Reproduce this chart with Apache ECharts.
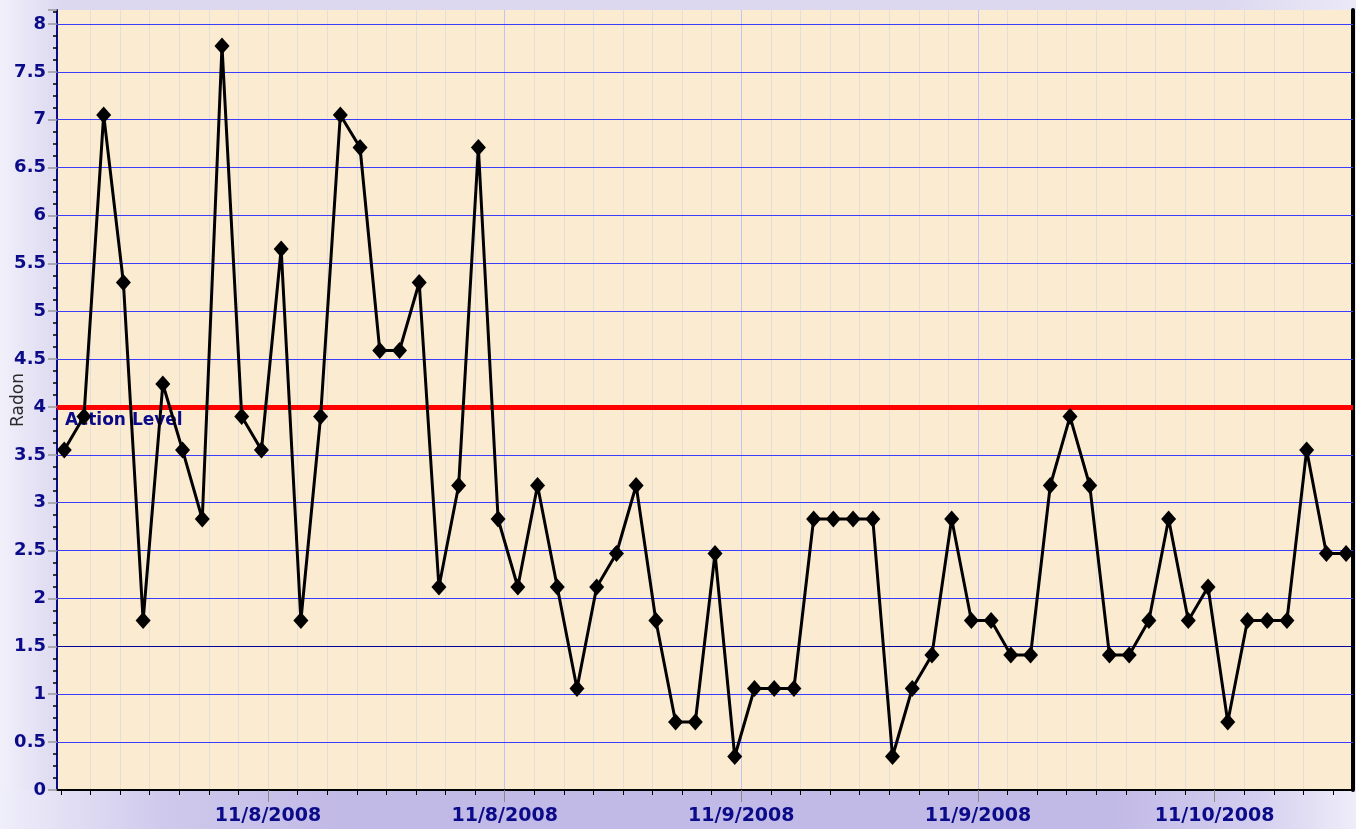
<!DOCTYPE html>
<html>
<head>
<meta charset="utf-8">
<script src="https://cdn.jsdelivr.net/npm/echarts@6/dist/echarts.min.js"></script>
<style>
html,body{margin:0;padding:0;background:#e4e1f4;}
#chart{width:1356px;height:829px;}
</style>
</head>
<body>
<div id="chart"></div>
<script>
// ---- data ----
const times = [
  '2008-11-07 13:40','2008-11-07 14:40','2008-11-07 15:40','2008-11-07 16:40','2008-11-07 17:40','2008-11-07 18:40',
  '2008-11-07 19:40','2008-11-07 20:40','2008-11-07 21:40','2008-11-07 22:40','2008-11-07 23:40',
  '2008-11-08 00:40','2008-11-08 01:40','2008-11-08 02:40','2008-11-08 03:40','2008-11-08 04:40','2008-11-08 05:40',
  '2008-11-08 06:40','2008-11-08 07:40','2008-11-08 08:40','2008-11-08 09:40','2008-11-08 10:40','2008-11-08 11:40',
  '2008-11-08 12:40','2008-11-08 13:40','2008-11-08 14:40','2008-11-08 15:40','2008-11-08 16:40','2008-11-08 17:40',
  '2008-11-08 18:40','2008-11-08 19:40','2008-11-08 20:40','2008-11-08 21:40','2008-11-08 22:40','2008-11-08 23:40',
  '2008-11-09 00:40','2008-11-09 01:40','2008-11-09 02:40','2008-11-09 03:40','2008-11-09 04:40','2008-11-09 05:40',
  '2008-11-09 06:40','2008-11-09 07:40','2008-11-09 08:40','2008-11-09 09:40','2008-11-09 10:40','2008-11-09 11:40',
  '2008-11-09 12:40','2008-11-09 13:40','2008-11-09 14:40','2008-11-09 15:40','2008-11-09 16:40','2008-11-09 17:40',
  '2008-11-09 18:40','2008-11-09 19:40','2008-11-09 20:40','2008-11-09 21:40','2008-11-09 22:40','2008-11-09 23:40',
  '2008-11-10 00:40','2008-11-10 01:40','2008-11-10 02:40','2008-11-10 03:40','2008-11-10 04:40','2008-11-10 05:40',
  '2008-11-10 06:40'
];
const radon = [
  3.55,3.9,7.05,5.3,1.77,4.24,3.55,2.83,7.77,3.9,
  3.55,5.65,1.77,3.9,7.05,6.71,4.59,4.59,5.3,2.12,
  3.18,6.71,2.83,2.12,3.18,2.12,1.06,2.12,2.47,3.18,
  1.77,0.71,0.71,2.47,0.35,1.06,1.06,1.06,2.83,2.83,
  2.83,2.83,0.35,1.06,1.41,2.83,1.77,1.77,1.41,1.41,
  3.18,3.9,3.18,1.41,1.41,1.77,2.83,1.77,2.12,0.71,
  1.77,1.77,1.77,3.55,2.47,2.47
];
const majorTicks = ['2008-11-08 00:00','2008-11-08 12:00','2008-11-09 00:00','2008-11-09 12:00','2008-11-10 00:00'];
const majorLabels = ['11/8/2008','11/8/2008','11/9/2008','11/9/2008','11/10/2008'];
const yGridLevels = [0.5, 1, 2, 2.5, 3, 3.5, 4.5, 5, 5.5, 6, 6.5, 7, 7.5, 8];
const actionLevel = 4;
const actionLabel = 'Action Level';
const darkLineLevel = 1.5;
const yName = 'Radon';
const xMin = '2008-11-07 13:18';
const xMax = '2008-11-10 07:01';
const minorTickStart = '2008-11-07 13:30';
const minorTickHours = 1.5;

// ---- build ----
const P = s => echarts.time.parse(s).getTime();
const minT = P(xMin), maxT = P(xMax);
const minorTicks = [];
for (let t = P(minorTickStart); t <= maxT; t += minorTickHours * 3600000) minorTicks.push(t);
const majorTs = majorTicks.map(P);
const seriesData = times.map((t, i) => [P(t), radon[i]]);

const navy = '#0b0b8a';
const yMax = 8.146;

const gridMarkLines = yGridLevels.map(v => ({
  yAxis: v, lineStyle: {color: '#3c3cff', width: 1, type: 'solid'}, label: {show: false}
}));

const chart = echarts.init(document.getElementById('chart'), null, {renderer: 'canvas'});
chart.setOption({
  animation: false,
  backgroundColor: {
    type: 'linear', x: 0, y: 0, x2: 1, y2: 0,
    colorStops: [
      {offset: 0, color: '#f1f0fa'},
      {offset: 0.045, color: '#dcd8f0'},
      {offset: 0.9, color: '#dcd8f0'},
      {offset: 1, color: '#ebe9f7'}
    ]
  },
  graphic: [{
    type: 'rect', z: -10, silent: true,
    shape: {x: 0, y: 790, width: 1356, height: 39},
    style: {
      fill: {
        type: 'linear', x: 0, y: 0, x2: 1, y2: 0,
        colorStops: [
          {offset: 0, color: '#efeefa'},
          {offset: 0.12, color: '#cfc9ec'},
          {offset: 0.25, color: '#c2bae6'},
          {offset: 0.82, color: '#c2bae6'},
          {offset: 0.92, color: '#d2ccee'},
          {offset: 1, color: '#eeedf9'}
        ]
      }
    }
  }],
  grid: {
    left: 57, right: 3, top: 10, bottom: 39,
    outerBoundsMode: 'none', containLabel: false,
    show: true, backgroundColor: '#fbebd0', borderWidth: 0
  },
  xAxis: [{
    type: 'value', min: minT, max: maxT, position: 'bottom',
    axisLine: {show: true, onZero: false, lineStyle: {color: '#000', width: 2}},
    axisTick: {show: true, customValues: minorTicks, length: 5, lineStyle: {color: '#000', width: 1}},
    axisLabel: {show: false},
    splitLine: {show: true, showMinLine: false, showMaxLine: false, lineStyle: {color: '#e4ded8', width: 1}}
  }, {
    type: 'value', min: minT, max: maxT, position: 'bottom',
    axisLine: {show: false, onZero: false},
    axisTick: {show: true, customValues: majorTs, length: 12, lineStyle: {color: '#8a8a8a', width: 1}},
    axisLabel: {
      show: true, customValues: majorTs, margin: 17,
      color: navy, fontSize: 19, fontWeight: 'bold', fontFamily: 'DejaVu Sans',
      formatter: function (v) {
        for (let i = 0; i < majorTs.length; i++) if (Math.abs(majorTs[i] - v) < 60000) return majorLabels[i];
        return '';
      }
    },
    splitLine: {show: true, showMinLine: false, showMaxLine: false, lineStyle: {color: '#c4c2f4', width: 1}}
  }],
  yAxis: [{
    type: 'value', min: 0, max: yMax, interval: 0.5,
    name: yName, nameLocation: 'middle', nameGap: 30, nameRotate: 90, nameMoveOverlap: false,
    nameTextStyle: {color: '#2a2a2a', fontSize: 17, fontFamily: 'DejaVu Sans'},
    axisLine: {show: true, lineStyle: {color: navy, width: 2}},
    axisTick: {show: true, length: 9, lineStyle: {color: '#999', width: 1.5}},
    minorTick: {show: true, splitNumber: 4, length: 4, lineStyle: {color: '#000', width: 1.5}},
    axisLabel: {
      show: true, margin: 11, showMaxLabel: false,
      color: navy, fontSize: 18, fontWeight: 'bold', fontFamily: 'DejaVu Sans'
    },
    splitLine: {show: false},
    minorSplitLine: {show: false}
  }, {
    type: 'value', min: 0, max: yMax, position: 'right',
    axisLine: {show: true, lineStyle: {color: '#000', width: 4}},
    axisTick: {show: false}, axisLabel: {show: false},
    splitLine: {show: false}, minorSplitLine: {show: false}, minorTick: {show: false}
  }],
  series: [{
    type: 'line',
    xAxisIndex: 0, yAxisIndex: 0,
    data: seriesData,
    lineStyle: {color: '#000', width: 3},
    itemStyle: {color: '#000'},
    symbol: 'diamond', symbolSize: [15, 17],
    showAllSymbol: true,
    z: 5,
    markLine: {
      silent: true, symbol: 'none', animation: false,
      data: gridMarkLines.concat([
        {yAxis: darkLineLevel, lineStyle: {color: '#00009a', width: 1, type: 'solid'}, label: {show: false}},
        {yAxis: actionLevel, lineStyle: {color: '#ff0000', width: 5, type: 'solid'},
          label: {show: true, position: 'insideStartBottom', formatter: actionLabel, distance: [8, 5],
            color: navy, fontSize: 17, fontWeight: 'bold', fontFamily: 'DejaVu Sans'}}
      ])
    }
  }]
});
</script>
</body>
</html>
